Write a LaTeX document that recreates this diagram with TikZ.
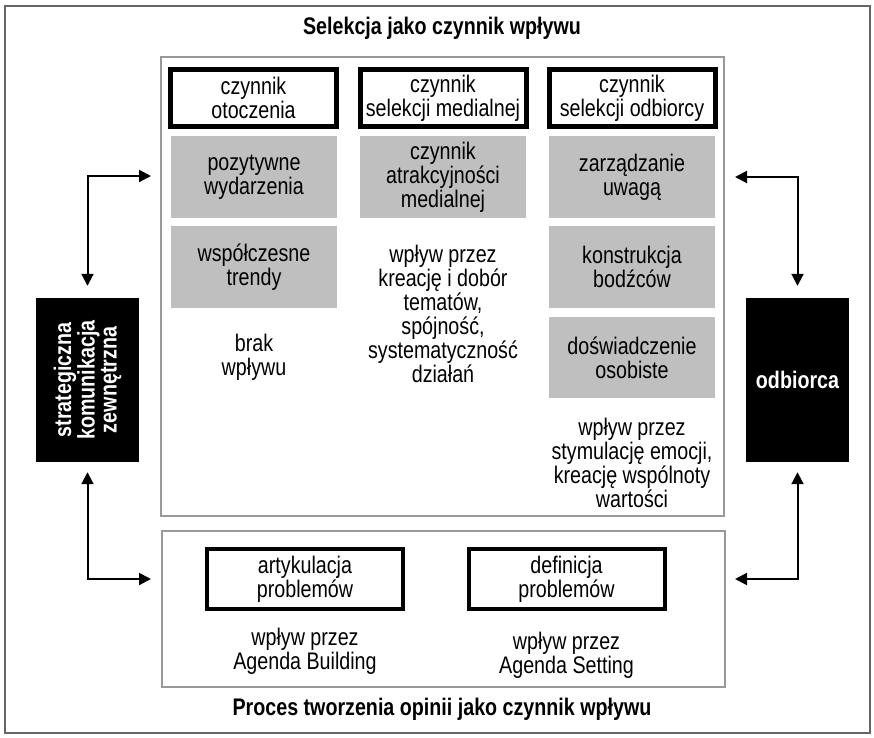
\documentclass[tikz,border=0pt]{standalone}
\usepackage{fontspec}
\setmainfont{Liberation Sans}[FakeStretch=0.82]
\usetikzlibrary{arrows.meta}
\begin{document}
\begin{tikzpicture}[x=1pt,y=-1pt,
  txt/.style={font=\fontsize{24}{24}\selectfont, align=center, inner sep=0pt},
  hdr/.style={txt, draw=black, line width=5pt, fill=white, minimum width=166pt, minimum height=57pt},
  hdrb/.style={txt, draw=black, line width=4pt, fill=white, minimum width=196pt, minimum height=60pt},
  gbox/.style={txt, fill=black!25, minimum width=166pt, minimum height=82pt},
  panel/.style={draw=black!40, line width=2.5pt, inner sep=0pt},
  blk/.style={fill=black, inner sep=0pt, minimum width=103pt, minimum height=164pt},
  blktxt/.style={text=white, font=\bfseries\fontsize{24}{22}\selectfont, align=center, inner sep=0pt},
  biarrow/.style={{Triangle[length=12pt,width=12pt]}-{Triangle[length=12pt,width=12pt]}, line width=2pt},
  ttl/.style={font=\bfseries\fontsize{24}{24}\selectfont, inner sep=0pt}
]
\useasboundingbox (0,0) rectangle (874,737);
\fill[white] (0,0) rectangle (874,737);
% outer frame
\draw[black!60, line width=1.3pt] (5,6) rectangle (870,733);

% titles
\node[ttl] (title1) at (442,28) {Selekcja jako czynnik wpływu};
\node[ttl] (title2) at (442,709) {Proces tworzenia opinii jako czynnik wpływu};

% top panel
\node[panel, minimum width=563pt, minimum height=459pt] (sel) at (442.5,286.5) {};

% headers
\node[hdr] (h1) at (253.5,98) {czynnik\\otoczenia};
\node[hdr] (h2) at (443,98) {czynnik\\selekcji medialnej};
\node[hdr] (h3) at (632,98) {czynnik\\selekcji odbiorcy};

% gray boxes
\node[gbox] (g11) at (254,177) {pozytywne\\wydarzenia};
\node[gbox] (g21) at (443,177) {czynnik\\atrakcyjności\\medialnej};
\node[gbox] (g31) at (632,177) {zarządzanie\\uwagą};
\node[gbox] (g12) at (254,267) {współczesne\\trendy};
\node[gbox] (g32) at (632,267) {konstrukcja\\bodźców};
\node[gbox, minimum height=81pt] (g33) at (632,357.5) {doświadczenie\\osobiste};

% free texts
\node[txt] (t1) at (254,357) {brak\\wpływu};
\node[txt] (t2) at (443,314) {wpływ przez\\kreację i dobór\\tematów,\\spójność,\\systematyczność\\działań};
\node[txt] (t3) at (632,463) {wpływ przez\\stymulację emocji,\\kreację wspólnoty\\wartości};

% bottom panel
\node[panel, minimum width=563pt, minimum height=156pt] (proc) at (443.5,609) {};
\node[hdrb] (b1) at (305,579) {artykulacja\\problemów};
\node[hdrb] (b2) at (566.5,579) {definicja\\problemów};
\node[txt] (bt1) at (305,651) {wpływ przez\\Agenda Building};
\node[txt] (bt2) at (566.5,655) {wpływ przez\\Agenda Setting};

% black boxes
\node[blk] (lb) at (87.5,380) {};
\node[blktxt, rotate=90] (lbt) at (lb.center) {strategiczna\\komunikacja\\zewnętrzna};
\node[blk] (rb) at (797.5,380) {};
\node[blktxt] (rbt) at (rb.center) {odbiorca};

% arrows
\coordinate (lt) at (151,176);
\coordinate (lbo) at (151,579);
\coordinate (rt) at (735,177);
\coordinate (rbo) at (735,579);
\draw[biarrow, shorten >=12pt] (lt) -| (lb);
\draw[biarrow, shorten >=10pt] (lbo) -| (lb);
\draw[biarrow, shorten >=12pt] (rt) -| (rb);
\draw[biarrow, shorten >=10pt] (rbo) -| (rb);
\end{tikzpicture}
\end{document}
